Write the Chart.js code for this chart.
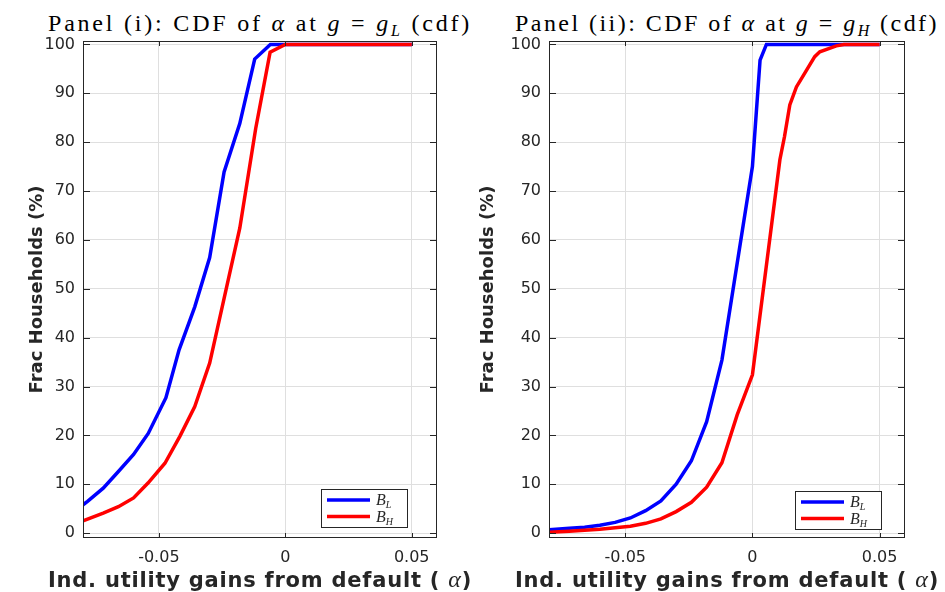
<!DOCTYPE html>
<html>
<head>
<meta charset="utf-8">
<script src="https://cdn.jsdelivr.net/npm/chart.js@4.4.1/dist/chart.umd.min.js"></script>
<style>
  body { margin: 0; background: #fff; width: 945px; height: 592px; overflow: hidden; position: relative; }
  canvas { position: absolute; top: 0; }
  .title {
    position: absolute; top: 11px; line-height: 24px; white-space: nowrap;
    font-family: "Liberation Serif", serif; font-size: 24px; color: #000;
    transform: translateX(-50%);
  }
  .title sub { font-size: 16px; vertical-align: -5px; line-height: 0; }
</style>
</head>
<body>
<div class="title" style="left:260px">Panel (i): CDF of <i>α</i> at <i>g</i> = <i>g<sub>L</sub></i> (cdf)</div>
<div class="title" style="left:727px">Panel (ii): CDF of <i>α</i> at <i>g</i> = <i>g<sub>H</sub></i> (cdf)</div>
<canvas id="panel1" width="472" height="592" style="left:0"></canvas>
<canvas id="panel2" width="473" height="592" style="left:472px"></canvas>
<script>
// values
const xTicks = [-0.05, 0, 0.05];
const yTicks = [0, 10, 20, 30, 40, 50, 60, 70, 80, 90, 100];

// panel (i): g = g_L
const p1BlueX = [-0.08, -0.0782, -0.072, -0.066, -0.060, -0.0542, -0.0472, -0.0420, -0.0358, -0.0299, -0.0242, -0.0180, -0.0121, -0.0059, 0.05];
const p1BlueY = [5.8, 6.5, 9.2, 12.6, 16.1, 20.4, 27.7, 37.5, 46.3, 56.4, 73.9, 83.8, 97.0, 100, 100];
const p1RedX = [-0.08, -0.072, -0.066, -0.060, -0.0542, -0.0476, -0.0417, -0.0358, -0.0299, -0.024, -0.018, -0.0117, -0.006, 0, 0.05];
const p1RedY = [2.5, 4.1, 5.4, 7.2, 10.3, 14.3, 19.8, 25.9, 34.8, 48.5, 62.4, 82.8, 98.4, 100, 100];

// panel (ii): g = g_H
const p2BlueX = [-0.08, -0.072, -0.066, -0.060, -0.054, -0.048, -0.042, -0.036, -0.030, -0.024, -0.018, -0.012, 0, 0.003, 0.0055, 0.05];
const p2BlueY = [0.7, 1.0, 1.2, 1.6, 2.2, 3.1, 4.6, 6.6, 10.0, 14.8, 22.8, 35.4, 75.0, 96.8, 100, 100];
const p2RedX = [-0.08, -0.072, -0.066, -0.060, -0.054, -0.048, -0.042, -0.036, -0.030, -0.024, -0.018, -0.012, -0.006, 0, 0.0108, 0.0126, 0.0147, 0.0173, 0.021, 0.0245, 0.0265, 0.033, 0.036, 0.05];
const p2RedY = [0.2, 0.4, 0.6, 0.8, 1.1, 1.4, 2.0, 2.9, 4.4, 6.3, 9.4, 14.4, 24.2, 32.4, 76.4, 81.1, 87.6, 91.3, 94.5, 97.5, 98.5, 99.7, 100, 100];

const seriesNames = ['B_L', 'B_H'];
const xLabel = ['Ind. utility gains from default ( ', 'α', ')'];
const axisColor = '#262626';
const labelWidth = 424;   // the wide MATLAB lettering

// stretch the titles to the width they have in the figure
document.querySelectorAll('.title').forEach(el => {
    const extra = labelWidth - el.getBoundingClientRect().width;
    el.style.letterSpacing = (extra / el.textContent.length) + 'px';
});

function toPoints(xs, ys) {
    return xs.map((x, i) => ({ x: x, y: ys[i] }));
}

// MATLAB style box with inward ticks, the x label and the boxed legend
const frameLegend = {
    id: 'frameLegend',
    afterDraw(chart, args, opts) {
        const { ctx, chartArea: a, scales } = chart;
        ctx.save();
        ctx.strokeStyle = axisColor;
        ctx.lineWidth = 1;
        ctx.strokeRect(a.left + 0.5, a.top + 0.5, a.right - a.left - 1, a.bottom - a.top - 1);
        ctx.beginPath();
        yTicks.forEach(v => {
            const py = Math.round(scales.y.getPixelForValue(v)) + 0.5;
            ctx.moveTo(a.left, py); ctx.lineTo(a.left + 7, py);
            ctx.moveTo(a.right, py); ctx.lineTo(a.right - 7, py);
        });
        xTicks.forEach(v => {
            const px = Math.round(scales.x.getPixelForValue(v)) + 0.5;
            ctx.moveTo(px, a.bottom); ctx.lineTo(px, a.bottom - 5);
            ctx.moveTo(px, a.top); ctx.lineTo(px, a.top + 5);
        });
        ctx.stroke();

        // x label: bold sans with a serif italic alpha
        const fonts = ['bold 21px "DejaVu Sans"', 'italic 24px "Liberation Serif"', 'bold 21px "DejaVu Sans"'];
        ctx.fillStyle = axisColor;
        ctx.textBaseline = 'alphabetic';
        ctx.textAlign = 'left';
        let natural = 0, chars = 0;
        xLabel.forEach((t, i) => {
            ctx.font = fonts[i];
            ctx.letterSpacing = '0px';
            natural += ctx.measureText(t).width;
            chars += t.length;
        });
        const ls = (labelWidth - natural) / chars;
        let tx = (a.left + a.right) / 2 - labelWidth / 2;
        xLabel.forEach((t, i) => {
            ctx.font = fonts[i];
            ctx.letterSpacing = ls + 'px';
            ctx.fillText(t, tx, 587);
            tx += ctx.measureText(t).width;
        });
        ctx.letterSpacing = '0px';

        // legend
        const w = 86, h = 38;
        const bx = Math.round(a.right - opts.right - w), by = Math.round(a.bottom - opts.bottom - h);
        ctx.fillStyle = '#fff';
        ctx.fillRect(bx, by, w, h);
        ctx.strokeRect(bx + 0.5, by + 0.5, w, h);
        chart.data.datasets.forEach((ds, i) => {
            const ly = by + 11 + i * 16.5;
            ctx.strokeStyle = ds.borderColor;
            ctx.lineWidth = 3.5;
            ctx.beginPath();
            ctx.moveTo(bx + 6, ly); ctx.lineTo(bx + 49, ly);
            ctx.stroke();
            const parts = ds.label.split('_');
            ctx.fillStyle = axisColor;
            ctx.font = 'italic 16px "Liberation Serif"';
            ctx.fillText(parts[0], bx + 55, ly + 5);
            const bw = ctx.measureText(parts[0]).width;
            ctx.font = 'italic 10px "Liberation Serif"';
            ctx.fillText(parts[1], bx + 55 + bw, ly + 8);
        });
        ctx.restore();
    }
};

function makePanel(id, blue, red, opt) {
    const tickFont = { family: 'DejaVu Sans', size: 16 };
    return new Chart(document.getElementById(id), {
        type: 'line',
        data: {
            datasets: [
                { label: seriesNames[0], data: blue, borderColor: '#0000ff', borderWidth: 3.5, pointRadius: 0, order: 1 },
                { label: seriesNames[1], data: red, borderColor: '#ff0000', borderWidth: 3.5, pointRadius: 0, order: 0 }
            ]
        },
        options: {
            responsive: false,
            animation: false,
            layout: { padding: { top: 41, right: opt.padRight, bottom: 0, left: 0 } },
            plugins: {
                legend: { display: false },
                tooltip: { enabled: false },
                frameLegend: { right: opt.legRight, bottom: opt.legBottom }
            },
            scales: {
                x: {
                    type: 'linear', min: -0.08, max: 0.06,
                    afterBuildTicks: s => { s.ticks = xTicks.map(v => ({ value: v })); },
                    afterFit: s => { s.height = 54; },
                    grid: { color: '#dfdfdf', drawTicks: false },
                    border: { display: false },
                    ticks: { padding: 10, font: tickFont, color: axisColor, callback: v => String(v) }
                },
                y: {
                    min: -1, max: 100.7,
                    afterBuildTicks: s => { s.ticks = yTicks.map(v => ({ value: v })); },
                    afterFit: s => { s.width = opt.yWidth; },
                    grid: { color: '#dfdfdf', drawTicks: false },
                    border: { display: false },
                    ticks: { padding: 8, font: tickFont, color: axisColor },
                    title: {
                        display: true, text: 'Frac Households (%)', color: axisColor,
                        font: { family: 'DejaVu Sans', weight: 'bold', size: 18 },
                        padding: { top: opt.yTitlePad, bottom: 0 }
                    }
                }
            }
        },
        plugins: [frameLegend]
    });
}

makePanel('panel1', toPoints(p1BlueX, p1BlueY), toPoints(p1RedX, p1RedY),
    { padRight: 35, yWidth: 83, yTitlePad: 27, legRight: 30, legBottom: 11 });
makePanel('panel2', toPoints(p2BlueX, p2BlueY), toPoints(p2RedX, p2RedY),
    { padRight: 40, yWidth: 77, yTitlePad: 6, legRight: 24, legBottom: 9 });
</script>
</body>
</html>
